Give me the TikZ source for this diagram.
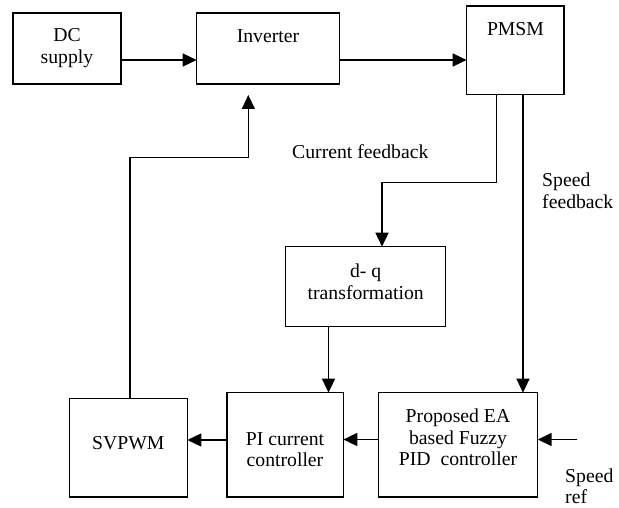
\documentclass[tikz,border=0pt]{standalone}
\usepackage{fontspec}
\setmainfont{Liberation Serif}
\usetikzlibrary{arrows.meta}
\begin{document}
\begin{tikzpicture}[x=1pt,y=-1pt,
  box/.style={draw, line width=1.5pt, inner sep=0pt, outer sep=0pt},
  lbl/.style={inner sep=0pt, align=center, font=\fontsize{19.7}{21.5}\selectfont},
  conn/.style={line width=1.5pt},
  arr/.style={conn, -{Triangle[length=14pt,width=13pt]}}
]
\useasboundingbox (0,0) rectangle (619,508);
% boxes
\node[box, minimum width=108pt, minimum height=71pt] (dc) at (67,48.5) {};
\node[box, minimum width=142.6pt, minimum height=71pt] (inv) at (268,48.5) {};
\node[box, minimum width=97.3pt, minimum height=88.7pt] (pmsm) at (515.3,50.3) {};
\node[box, minimum width=160pt, minimum height=80pt] (dq) at (365.7,286.7) {};
\node[box, minimum width=118pt, minimum height=98.7pt] (svpwm) at (128.3,447.7) {};
\node[box, minimum width=116.3pt, minimum height=104.3pt] (pi) at (285.2,444.8) {};
\node[box, minimum width=159pt, minimum height=104.3pt] (prop) at (458.2,444.8) {};
% texts
\node[lbl] (tdc) at (67,48) {DC\\supply};
\node[lbl] (tinv) at (268,36) {Inverter};
\node[lbl] (tpmsm) at (515.5,29) {PMSM};
\node[lbl] (tdq) at (365.7,282) {d- q\\transformation};
\node[lbl] (tsv) at (128.3,443) {SVPWM};
\node[lbl] (tpi) at (285,449.7) {PI current\\controller};
\node[lbl] (tprop) at (458,437.7) {Proposed EA\\based Fuzzy\\PID\ \ controller};
\node[lbl, anchor=west] (tcf) at (292,152) {Current feedback};
\node[lbl, anchor=west, align=left] (tsf) at (542,191) {Speed\\feedback};
\node[lbl, anchor=west, align=left] (tsr) at (565,486.5) {Speed\\ref};
% connectors
\coordinate (sref) at (577,439.5);
\coordinate (invin) at (248.3,95);
\draw[arr] (dc.east |- 0,60) -- (inv.west |- 0,60);
\draw[arr] (inv.east |- 0,60) -- (pmsm.west |- 0,60);
\draw[arr] (pmsm.south -| 496.5,0) -- (496.5,182.5) -- (382,182.5) -- (dq.north -| 382,0);
\draw[arr] (pmsm.south -| 523,0) -- (prop.north -| 523,0);
\draw[arr] (dq.south -| 328.5,0) -- (pi.north -| 328.5,0);
\draw[arr] (prop.west |- 0,439.5) -- (pi.east |- 0,439.5);
\draw[arr] (pi.west |- 0,440) -- (svpwm.east |- 0,440);
\draw[arr] (sref) -- (prop.east |- sref);
\draw[arr] (svpwm.north -| 130,0) -- (130,157.3) -- (248.3,157.3) -- (invin);
\end{tikzpicture}
\end{document}
